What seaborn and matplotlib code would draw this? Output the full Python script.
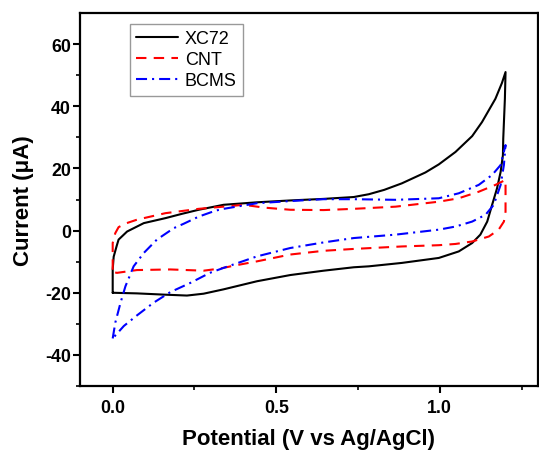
import numpy as np
import pandas as pd
import matplotlib
matplotlib.use("Agg")
import matplotlib.pyplot as plt
import seaborn as sns

# cyclic voltammograms (potential V vs Ag/AgCl, current uA)
xc72_v = [0.000, 0.000, 0.003, 0.012, 0.018, 0.044, 0.095, 0.161, 0.212, 0.263, 0.339, 0.441,
          0.543, 0.645, 0.737, 0.783, 0.830, 0.884, 0.956, 0.997, 1.048, 1.099, 1.129, 1.170, 1.190,
          1.201, 1.199, 1.194, 1.193, 1.186, 1.175, 1.160, 1.145, 1.124, 1.099, 1.058, 0.997, 0.884,
          0.783, 0.737, 0.645, 0.543, 0.441, 0.339, 0.278, 0.227, 0.156, 0.074, 0.000]
xc72_i = [-20.0, -12.5, -8.4, -5.0, -2.9, -0.3, 2.4, 4.0, 5.4, 6.7, 8.3, 9.1,
          9.7, 10.2, 10.8, 11.7, 13.1, 15.2, 18.7, 21.3, 25.3, 30.4, 34.9, 42.4, 47.5,
          51.0, 42.4, 29.6, 24.3, 18.9, 13.6, 8.3, 2.9, -1.3, -4.0, -6.7, -8.8, -10.4,
          -11.5, -11.8, -12.9, -14.3, -16.3, -18.9, -20.3, -20.9, -20.6, -20.2, -20.0]

cnt_v = [0.000, 0.000, 0.008, 0.018, 0.037, 0.074, 0.161, 0.263, 0.339, 0.401, 0.462, 0.543,
         0.645, 0.737, 0.865, 0.997, 1.058, 1.119, 1.170, 1.201,
         1.201, 1.196, 1.180, 1.150, 1.099, 1.048, 0.997, 0.885, 0.737, 0.645, 0.543, 0.441,
         0.370, 0.329, 0.278, 0.176, 0.074, 0.013, 0.000]
cnt_i = [-12.6, -4.0, -0.8, 1.1, 2.2, 3.5, 5.6, 7.0, 7.7, 8.3, 7.4, 6.7,
         6.6, 7.0, 7.7, 9.3, 10.4, 12.5, 14.7, 16.3,
         6.1, 2.9, 0.3, -1.9, -3.5, -4.3, -4.7, -5.1, -5.9, -6.5, -7.7, -9.9,
         -11.3, -12.2, -12.9, -12.5, -12.7, -13.6, -13.3]

bcms_v = [0.000, 0.008, 0.024, 0.039, 0.064, 0.095, 0.135, 0.187, 0.217, 0.263, 0.314, 0.339,
          0.441, 0.543, 0.645, 0.737, 0.865, 0.997, 1.058, 1.119, 1.160, 1.186, 1.201,
          1.196, 1.186, 1.165, 1.140, 1.099, 1.048, 0.997, 0.865, 0.737, 0.645, 0.543, 0.441,
          0.339, 0.297, 0.238, 0.176, 0.125, 0.074, 0.034, 0.000]
bcms_i = [-34.7, -29.6, -23.2, -17.9, -11.5, -7.2, -2.9, 0.8, 2.2, 4.5, 6.4, 7.0,
          8.8, 9.5, 10.1, 10.1, 9.9, 10.4, 12.0, 14.7, 17.9, 21.1, 27.5,
          21.1, 14.7, 8.3, 5.1, 2.9, 1.3, 0.3, -1.3, -2.4, -3.8, -5.6, -8.3,
          -12.0, -13.6, -16.8, -19.8, -23.2, -27.3, -30.7, -34.7]

labels = ["XC72", "CNT", "BCMS"]
xticks = [0.0, 0.5, 1.0]
yticks = [-40, -20, 0, 20, 40, 60]

sns.set_style("ticks")
plt.rcParams['font.family'] = ['Liberation Sans', 'DejaVu Sans']
plt.rcParams['axes.unicode_minus'] = False
plt.rcParams['text.color'] = 'black'
plt.rcParams['axes.labelcolor'] = 'black'
plt.rcParams['xtick.color'] = 'black'
plt.rcParams['ytick.color'] = 'black'

fig = plt.figure(figsize=(5.39, 4.52), dpi=100)
ax = fig.add_axes([0.1484, 0.1438, 0.8496, 0.8252])

sns.lineplot(x=xc72_v, y=xc72_i, sort=False, estimator=None, color='black', lw=1.5,
             label=labels[0], ax=ax)
sns.lineplot(x=cnt_v, y=cnt_i, sort=False, estimator=None, color='red', lw=1.5,
             linestyle=(0, (5, 3.5)), label=labels[1], ax=ax)
sns.lineplot(x=bcms_v, y=bcms_i, sort=False, estimator=None, color='blue', lw=1.5,
             linestyle=(0, (5.3, 2.4, 1, 2.4)), label=labels[2], ax=ax)

ax.set_xlim(-0.1, 1.3)
ax.set_ylim(-50, 70)
ax.set_xticks(xticks)
ax.set_yticks(yticks)
ax.set_xticklabels([f"{t:.1f}" for t in xticks])
ax.set_xticks([0.25, 0.75, 1.25], minor=True)
ax.set_yticks([-50, -30, -10, 10, 30, 50], minor=True)

for s in ax.spines.values():
    s.set_linewidth(1.6)
    s.set_color('black')

ax.tick_params(which='major', direction='out', length=5, width=1.5, labelsize=12.8,
               top=False, right=False)
ax.tick_params(which='minor', direction='out', length=3, width=1.2, top=False, right=False)
ax.tick_params(axis='y', pad=1.5)
ax.tick_params(axis='x', pad=4)
for t in ax.get_xticklabels() + ax.get_yticklabels():
    t.set_fontweight('bold')

ax.set_xlabel("Potential (V vs Ag/AgCl)", fontsize=16, fontweight='bold', labelpad=9)
ax.set_ylabel("Current (\u03bcA)", fontsize=16, fontweight='bold', labelpad=8)

leg = ax.legend(loc='upper left', bbox_to_anchor=(0.109, 0.9705), borderaxespad=0,
                fontsize=13, frameon=True, fancybox=False, handlelength=2.3,
                handletextpad=0.4, labelspacing=0.22, borderpad=0.35)
leg.get_frame().set_edgecolor('#808080')
leg.get_frame().set_linewidth(1.0)

fig.savefig("out.png", dpi=100)
